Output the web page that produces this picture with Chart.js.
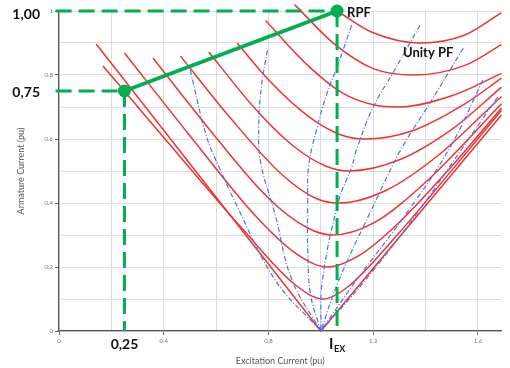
<!DOCTYPE html>
<html><head><meta charset="utf-8">
<script src="https://cdn.jsdelivr.net/npm/chart.js@4/dist/chart.umd.min.js"></script>
<style>html,body{margin:0;padding:0;background:#fff;}canvas{display:block;}</style>
</head><body>
<canvas id="c" width="510" height="368"></canvas>
<script>
// Tick labels
const xTickLabels = ['0', '0.4', '0.8', '1.2', '1.6'];
const yTickLabels = ['0', '0.2', '0.4', '0.6', '0.8', '1'];

// Red V-curves (x = excitation current, y = armature current)
const redV00 = [[0.142,0.897],[1.0,0],[1.69,0.675]];
const redV01 = [[0.168,0.828],[0.4,0.605],[0.7,0.32],[0.9,0.146],[1.008,0.1],[1.1,0.136],[1.3,0.308],[1.5,0.502],[1.69,0.69]];
const redV02 = [[0.25,0.869],[0.5,0.61],[0.75,0.36],[0.9,0.245],[1.025,0.2],[1.15,0.238],[1.3,0.34],[1.5,0.515],[1.69,0.697]];
const redV03 = [[0.359,0.853],[0.55,0.655],[0.8,0.415],[0.95,0.322],[1.045,0.3],[1.2,0.337],[1.4,0.465],[1.69,0.71]];
const redV04 = [[0.464,0.859],[0.65,0.67],[0.85,0.49],[0.98,0.415],[1.07,0.4],[1.25,0.44],[1.45,0.55],[1.69,0.733]];
const redV05 = [[0.572,0.872],[0.75,0.694],[0.9,0.575],[1.02,0.515],[1.11,0.5],[1.3,0.535],[1.5,0.63],[1.69,0.762]];
const redV06 = [[0.68,0.90],[0.8,0.785],[0.95,0.672],[1.07,0.615],[1.17,0.6],[1.35,0.626],[1.55,0.71],[1.69,0.79]];
const redV07 = [[0.789,0.97],[0.95,0.83],[1.08,0.745],[1.2,0.707],[1.3,0.7],[1.5,0.735],[1.69,0.805]];
const redV08 = [[0.90,1.02],[1.05,0.898],[1.2,0.82],[1.36,0.8],[1.55,0.83],[1.69,0.895]];
const redV09 = [[1.062,1.0],[1.2,0.932],[1.38,0.9],[1.55,0.925],[1.69,0.995]];

// Blue dash-dot constant power-factor curves
const blue1 = [[0.501,0.816],[0.564,0.606],[0.613,0.509],[0.669,0.409],[0.826,0.159],[1.0,0]];
const blue2 = [[0.796,0.878],[0.774,0.769],[0.763,0.644],[0.770,0.528],[0.826,0.3625],[0.890,0.159],[1.0,0]];
const blue3 = [[1.118,0.956],[1.062,0.825],[1.024,0.744],[0.983,0.628],[0.953,0.5125],[0.950,0.409],[0.950,0.253],[0.961,0.1125],[1.0,0]];
const blue4 = [[1.379,0.956],[1.275,0.806],[1.2,0.7],[1.136,0.566],[1.118,0.5125],[1.069,0.409],[1.006,0.159],[1.0,0]];
const blue5 = [[1.544,0.884],[1.424,0.722],[1.305,0.566],[1.211,0.409],[1.069,0.159],[1.0,0]];
const blue6 = [[1.619,0.784],[1.488,0.566],[1.32,0.36],[1.136,0.159],[1.0,0]];
const blue7 = [[1.675,0.731],[1.536,0.566],[1.36,0.36],[1.17,0.159],[1.0,0]];

// Green operating-point markers
const markX = [0.25, 1.062];
const markY = [0.75, 1.0];
const axisStartX = -0.013;

const toXY = arr => arr.map(p => ({x: p[0], y: p[1]}));
const RED = 'rgb(236,52,52)';
const BLUE = 'rgb(80,115,225)';
const GREEN = 'rgb(0,176,80)';

const datasets = [];
datasets.push({data: toXY([[markX[0],markY[0]],[markX[1],markY[1]]]), borderColor: GREEN, borderWidth: 4,
  pointRadius: 4.5, pointBackgroundColor: GREEN, pointBorderColor: GREEN, order: 0});
const dash = [16, 7];
datasets.push({data: toXY([[axisStartX,markY[1]],[markX[1],markY[1]]]), borderColor: GREEN, borderWidth: 3, borderDash: dash, order: 0});
datasets.push({data: toXY([[markX[1],markY[1]],[markX[1],0]]), borderColor: GREEN, borderWidth: 3, borderDash: dash, order: 0});
datasets.push({data: toXY([[axisStartX,markY[0]],[markX[0],markY[0]]]), borderColor: GREEN, borderWidth: 3, borderDash: dash, order: 0});
datasets.push({data: toXY([[markX[0],markY[0]],[markX[0],0]]), borderColor: GREEN, borderWidth: 3, borderDash: dash, order: 0});

[blue1,blue2,blue3,blue4,blue5,blue6,blue7].forEach(b => datasets.push({
  data: toXY(b), borderColor: BLUE, borderWidth: 1.2, borderDash: [5,2,1,2], tension: 0.4, order: 1
}));
[redV00].forEach(r => datasets.push({data: toXY(r), borderColor: RED, borderWidth: 1.5, tension: 0, order: 2}));
[redV01,redV02,redV03,redV04,redV05,redV06,redV07,redV08,redV09].forEach(r => datasets.push({
  data: toXY(r), borderColor: RED, borderWidth: 1.5, cubicInterpolationMode: 'monotone', order: 2
}));
datasets.forEach(d => { d.showLine = true; d.clip = false; if (d.pointRadius === undefined) d.pointRadius = 0; d.fill = false; });

const textPlugin = {
  id: 'annotText',
  afterDraw(chart) {
    const {ctx, scales: {x, y}} = chart;
    ctx.save();
    ctx.fillStyle = '#111';
    ctx.textBaseline = 'alphabetic';
    ctx.font = 'bold 14px Lato';
    ctx.textAlign = 'right';
    ctx.fillText('1,00', 40, y.getPixelForValue(markY[1]) + 8);
    ctx.fillText('0,75', 40, y.getPixelForValue(markY[0]) + 6);
    ctx.textAlign = 'center';
    ctx.fillText('0,25', x.getPixelForValue(markX[0]), 349);
    ctx.textAlign = 'left';
    ctx.font = 'bold 15px Lato';
    ctx.fillText('I', x.getPixelForValue(markX[1]) - 8, 349);
    ctx.font = 'bold 9px Lato';
    ctx.fillText('EX', x.getPixelForValue(markX[1]) - 3, 352);
    ctx.font = 'bold 13px Lato';
    ctx.fillText('RPF', x.getPixelForValue(markX[1]) + 10, 17);
    ctx.fillText('Unity PF', 403, 57);
    ctx.restore();
  }
};

new Chart(document.getElementById('c'), {
  type: 'scatter',
  data: {datasets},
  options: {
    responsive: false, animation: false, devicePixelRatio: 1,
    layout: {padding: {top: 11, right: 0, bottom: 0, left: 0}},
    plugins: {legend: {display: false}, tooltip: {enabled: false}},
    scales: {
      x: {
        type: 'linear', min: 0, max: 1.69,
        afterFit(s) { s.height = 37; },
        ticks: {
          stepSize: 0.2, includeBounds: false, autoSkip: false, maxRotation: 0, padding: 2,
          font: {size: 6, family: 'Lato'}, color: '#777',
          callback: v => { const k = Math.round(v * 10); return k % 4 === 0 ? xTickLabels[k / 4] : ''; }
        },
        grid: {color: '#dcdcdc', tickLength: 4, tickColor: c => (c.tick && c.tick.label) ? '#666' : 'rgba(0,0,0,0)'},
        border: {color: '#555', width: 1.2},
        title: {display: true, text: 'Excitation Current (pu)', font: {size: 9, family: 'Lato'}, color: '#555', padding: {top: 0, bottom: 2}}
      },
      y: {
        type: 'linear', min: 0, max: 1,
        afterFit(s) { s.width = 59; },
        ticks: {
          stepSize: 0.1, autoSkip: false, padding: 2,
          font: {size: 6, family: 'Lato'}, color: '#777',
          callback: v => { const k = Math.round(v * 10); return k % 2 === 0 ? yTickLabels[k / 2] : ''; }
        },
        grid: {color: '#dcdcdc', tickLength: 4, tickColor: c => (c.tick && c.tick.label) ? '#666' : 'rgba(0,0,0,0)'},
        border: {color: '#555', width: 1.2},
        title: {display: true, text: 'Armature Current (pu)', font: {size: 9, family: 'Lato'}, color: '#555', padding: {top: 16, bottom: 0}}
      }
    }
  },
  plugins: [textPlugin]
});
</script>
</body></html>
